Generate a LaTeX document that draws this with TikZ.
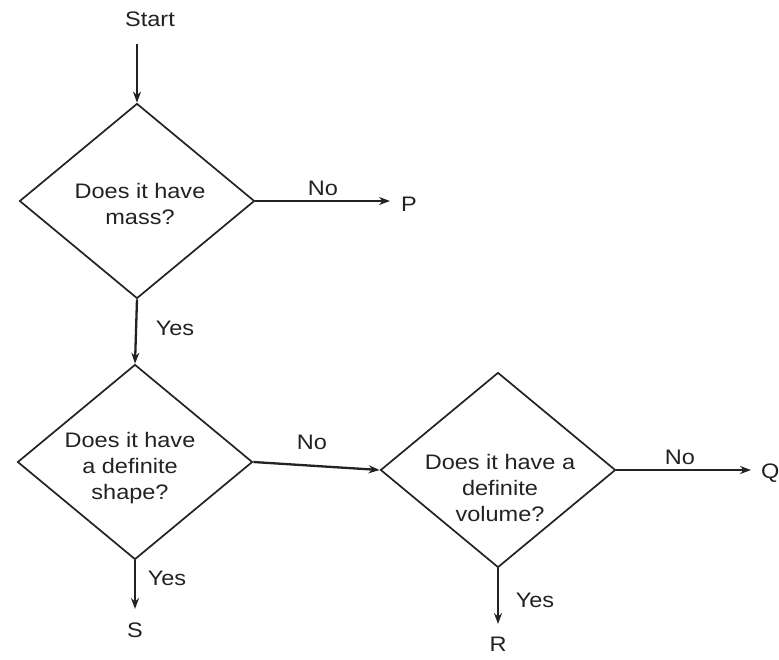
\documentclass[tikz,border=0pt]{standalone}
\usepackage{fontspec}
\setmainfont[FakeStretch=1.12]{Liberation Sans}
\usetikzlibrary{shapes.geometric,arrows.meta}
\definecolor{ink}{HTML}{222222}
\begin{document}
\begin{tikzpicture}[x=1pt,y=-1pt,
  every node/.style={font=\fontsize{21}{26}\selectfont, text=ink},
  decision/.style={shape=diamond, draw=ink, line width=1.7pt, inner sep=0pt, minimum width=235pt, minimum height=195pt},
  qtext/.style={align=center, inner sep=0pt},
  lbl/.style={inner sep=1pt},
  arr/.style={draw=ink, line width=2.3pt, -{Stealth[length=11pt,width=8pt]}}]
\useasboundingbox (0,0) rectangle (779,659);
% diamonds
\node[decision] (d1) at (137,201) {};
\node[decision] (d2) at (135,462) {};
\node[decision] (d3) at (498,470) {};
\node[qtext] (t1) at (140,204) {Does it have\\mass?};
\node[qtext] (t2) at (130,468) {Does it have\\a definite\\shape?};
\node[qtext] (t3) at (500,488) {Does it have a\\definite\\volume?};
% terminals
\node[lbl] (start) at (150,19) {Start};
\node[lbl, anchor=west] (p) at (400,204) {P};
\node[lbl, anchor=west] (q) at (760,473) {Q};
\node[lbl, anchor=north] (s) at (d2.south |- 0,622) {S};
\node[lbl, anchor=north] (r) at (d3.south |- 0,636) {R};
% labels
\node[lbl] (no1) at (323,188) {No};
\node[lbl] (yes1) at (175,328) {Yes};
\node[lbl] (no2) at (312,442) {No};
\node[lbl] (no3) at (680,457) {No};
\node[lbl] (yes2) at (167,578) {Yes};
\node[lbl] (yes3) at (535,600) {Yes};
% connectors
\coordinate (startend) at ([yshift=-16pt]start.south);
\draw[arr] (startend -| d1.north) -- (d1.north);
\draw[arr, shorten >=10pt] (d1.east) -- (d1.east -| p.west);
\draw[arr] (d1.south) -- (d2.north);
\draw[arr] (d2.east) -- (d3.west);
\draw[arr, shorten >=9pt] (d3.east) -- (d3.east -| q.west);
\draw[arr, shorten >=13pt] (d2.south) -- (s.north);
\draw[arr, shorten >=12pt] (d3.south) -- (r.north);
\end{tikzpicture}
\end{document}
